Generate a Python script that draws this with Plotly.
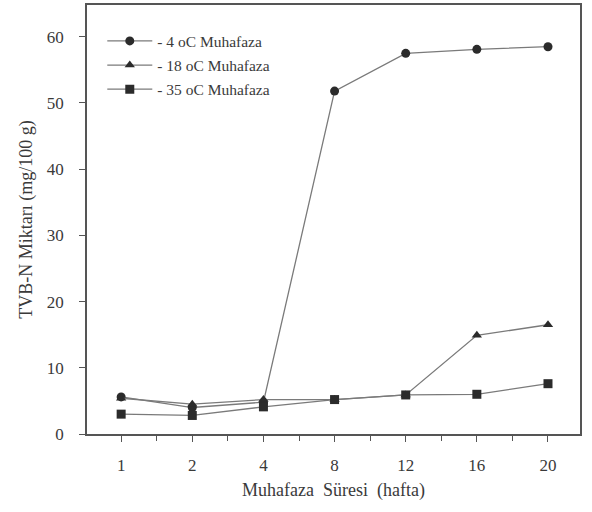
import plotly.graph_objects as go

weeks = ["1", "2", "4", "8", "12", "16", "20"]
s_minus4 = [5.6, 4.0, 4.8, 51.8, 57.5, 58.1, 58.5]
s_minus18 = [5.4, 4.5, 5.2, 5.2, 5.9, 14.9, 16.5]
s_minus35 = [3.0, 2.8, 4.1, 5.2, 5.9, 6.0, 7.6]
names = ["- 4 oC Muhafaza", "- 18 oC Muhafaza", "- 35 oC Muhafaza"]
symbols = ["circle", "triangle-up", "square"]

xpos = list(range(len(weeks)))
fig = go.Figure()
for i, (name, vals, sym) in enumerate(zip(names, [s_minus4, s_minus18, s_minus35], symbols)):
    fig.add_trace(go.Scatter(
        x=xpos, y=vals, mode="lines+markers", name=name, legendgroup=f"g{i}",
        line=dict(color="#7a7a7a", width=1.3),
        marker=dict(symbol=sym, size=9, color="#2b2b2b"),
    ))

font = "Liberation Serif, Times New Roman, serif"
nb = "\u00a0"
fig.update_layout(
    width=592, height=512,
    margin=dict(l=87, r=12, t=3, b=78),
    paper_bgcolor="white", plot_bgcolor="white",
    font=dict(family=font, size=17, color="#3a3a3a"),
    showlegend=True,
    legend=dict(x=0.031, y=0.955, xanchor="left", yanchor="top",
                bgcolor="rgba(0,0,0,0)", font=dict(size=15.5, color="#3a3a3a"),
                tracegroupgap=1, itemwidth=45),
    xaxis=dict(
        range=[-0.48, 6.45], tickmode="array", tickvals=xpos, ticktext=weeks,
        showline=True, linecolor="#555", linewidth=1.5, mirror=True,
        ticks="outside", ticklen=6, tickcolor="#555", showgrid=False, zeroline=False,
        ticklabelstandoff=9,
        minor=dict(tickmode="array", tickvals=[i + 0.5 for i in range(-1, 6)],
                   ticks="outside", ticklen=5, tickcolor="#555"),
        title=dict(text=f"Muhafaza{nb}{nb}Süresi{nb}{nb}(hafta)", font=dict(size=18), standoff=9),
    ),
    yaxis=dict(
        range=[0, 64.8], tickmode="array", tickvals=[0, 10, 20, 30, 40, 50, 60],
        showline=True, linecolor="#555", linewidth=1.5, mirror=True,
        ticks="outside", ticklen=6, tickcolor="#555", showgrid=False, zeroline=False,
        ticklabelstandoff=12,
        title=dict(text="TVB-N Miktarı (mg/100 g)", font=dict(size=18), standoff=10),
    ),
)
fig.write_html("out.html", config={"displayModeBar": False},
               post_script="document.body.style.margin='0px';")
